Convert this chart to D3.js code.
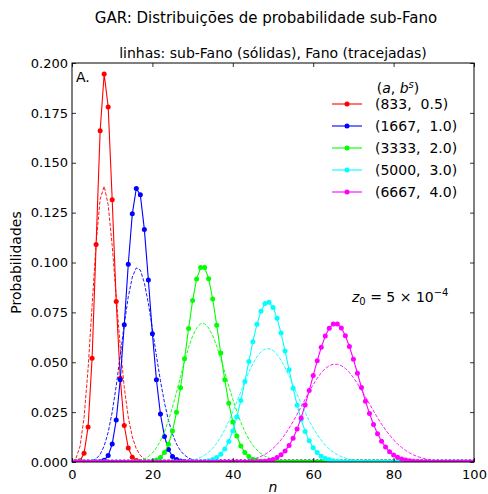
<!DOCTYPE html>
<html>
<head>
<meta charset="utf-8">
<script src="https://cdn.jsdelivr.net/npm/d3@7"></script>
<style>
  body { margin: 0; background: #fff; }
  svg text { font-family: "DejaVu Sans", sans-serif; fill: #000; }
</style>
</head>
<body>
<div id="chart"></div>
<script>
// Values (n starts at the given offset, zero elsewhere)
var nMax = 100;
var labels = ["(833, 0.5)", "(1667, 1.0)", "(3333, 2.0)", "(5000, 3.0)", "(6667, 4.0)"];
var colors = ["#ff0000", "#0000ff", "#00ff00", "#00ffff", "#ff00ff"];

// sub-Fano (solid)
var redSolidStart = 2;
var redSolid = [0.0006, 0.0044, 0.0175, 0.052, 0.109, 0.166, 0.1945, 0.178, 0.1315, 0.0805,
  0.042, 0.0183, 0.007, 0.0024, 0.0007, 0.0002];
var blueSolidStart = 6;
var blueSolid = [0.00004, 0.0002, 0.0009, 0.0032, 0.0090, 0.0210, 0.0412, 0.0688, 0.0991, 0.1244,
  0.1371, 0.1339, 0.1166, 0.0912, 0.0643, 0.0412, 0.0240, 0.0128, 0.0063, 0.0028,
  0.0012, 0.0005, 0.0002, 0.00005];
var greenSolidStart = 18;
var greenSolid = [0.00005, 0.00015, 0.0004, 0.0010, 0.0023, 0.0047, 0.0089, 0.0155, 0.0249, 0.0372,
  0.0517, 0.0669, 0.0809, 0.0917, 0.0975, 0.0975, 0.0919, 0.0817, 0.0686, 0.0546,
  0.0412, 0.0295, 0.0201, 0.0130, 0.0080, 0.0047, 0.0027, 0.0014, 0.0007, 0.00036,
  0.00017, 0.00008, 0.00004];
var cyanSolidStart = 31;
var cyanSolid = [0.00005, 0.00013, 0.0003, 0.0006, 0.0012, 0.0022, 0.0039, 0.0065, 0.0103, 0.0156,
  0.0225, 0.0308, 0.0403, 0.0504, 0.0603, 0.0690, 0.0756, 0.0794, 0.0801, 0.0775,
  0.0721, 0.0646, 0.0557, 0.0462, 0.0370, 0.0285, 0.0213, 0.0153, 0.0106, 0.0072,
  0.0047, 0.0029, 0.0018, 0.0011, 0.0006, 0.00034, 0.00018, 0.0001, 0.00005];
var magentaSolidStart = 45;
var magentaSolid = [0.00005, 0.0001, 0.0002, 0.0004, 0.0008, 0.0013, 0.0022, 0.0036, 0.0055, 0.0083,
  0.0119, 0.0165, 0.0221, 0.0286, 0.0358, 0.0433, 0.0507, 0.0575, 0.0631, 0.0671,
  0.0692, 0.0692, 0.0672, 0.0633, 0.0579, 0.0515, 0.0445, 0.0374, 0.0305, 0.0243,
  0.0188, 0.0142, 0.0104, 0.0075, 0.0052, 0.0035, 0.0024, 0.0015, 0.0010, 0.0006,
  0.00036, 0.0002, 0.00012, 0.00007];

// Fano (dashed)
var redDashStart = 0;
var redDash = [0.0002, 0.0019, 0.0079, 0.0222, 0.0467, 0.0784, 0.1097, 0.1317, 0.1382, 0.1290,
  0.1084, 0.0828, 0.0579, 0.0374, 0.0225, 0.0126, 0.0066, 0.0033, 0.0015, 0.0007,
  0.0003, 0.0001];
var blueDashStart = 3;
var blueDash = [0.00004, 0.0002, 0.0006, 0.0016, 0.0038, 0.0080, 0.0149, 0.0250, 0.0381, 0.0534,
  0.0690, 0.0828, 0.0927, 0.0973, 0.0962, 0.0898, 0.0794, 0.0667, 0.0533, 0.0407,
  0.0298, 0.0208, 0.0140, 0.0090, 0.0056, 0.0034, 0.0020, 0.0011, 0.0006, 0.0003,
  0.00016, 0.00008];
var greenDashStart = 13;
var greenDash = [0.00004, 0.0001, 0.0002, 0.0004, 0.0009, 0.0016, 0.0027, 0.0045, 0.0071, 0.0106,
  0.0152, 0.0209, 0.0276, 0.0350, 0.0428, 0.0504, 0.0574, 0.0631, 0.0672, 0.0693,
  0.0693, 0.0672, 0.0634, 0.0581, 0.0518, 0.0450, 0.0381, 0.0314, 0.0253, 0.0199,
  0.0153, 0.0114, 0.0084, 0.0060, 0.0042, 0.0029, 0.0020, 0.0013, 0.0008, 0.0005,
  0.0003, 0.0002, 0.0001, 0.00007, 0.00004];
var cyanDashStart = 25;
var cyanDash = [0.00006, 0.0001, 0.0002, 0.0003, 0.0006, 0.0009, 0.0015, 0.0023, 0.0034, 0.0049,
  0.0069, 0.0094, 0.0125, 0.0162, 0.0204, 0.0251, 0.0301, 0.0352, 0.0403, 0.0451,
  0.0493, 0.0527, 0.0552, 0.0566, 0.0568, 0.0559, 0.0539, 0.0510, 0.0473, 0.0431,
  0.0386, 0.0339, 0.0293, 0.0248, 0.0207, 0.0170, 0.0137, 0.0109, 0.0085, 0.0065,
  0.0049, 0.0037, 0.0027, 0.0020, 0.0014, 0.0010, 0.0007, 0.0005, 0.0003, 0.0002,
  0.00014, 0.00009, 0.00006];
var magentaDashStart = 38;
var magentaDash = [0.00006, 0.0001, 0.00016, 0.00026, 0.0004, 0.0006, 0.0009, 0.0014, 0.0020, 0.0028,
  0.0038, 0.0051, 0.0068, 0.0088, 0.0111, 0.0139, 0.0169, 0.0203, 0.0239, 0.0277,
  0.0315, 0.0353, 0.0388, 0.0420, 0.0447, 0.0468, 0.0483, 0.0490, 0.0490, 0.0483,
  0.0469, 0.0449, 0.0423, 0.0393, 0.0360, 0.0326, 0.0291, 0.0256, 0.0222, 0.0190,
  0.0161, 0.0135, 0.0111, 0.0090, 0.0073, 0.0058, 0.0045, 0.0035, 0.0027, 0.0021,
  0.0015, 0.0011, 0.0008, 0.0006, 0.0004, 0.0003, 0.0002, 0.00015, 0.0001, 0.00007,
  0.00005, 0.00003, 0.00002];

var xTicks = [0, 20, 40, 60, 80, 100];
var yTicks = [0, 0.025, 0.05, 0.075, 0.1, 0.125, 0.15, 0.175, 0.2];

// turn (start, values) into points for n = 0..nMax
function toPoints(start, vals) {
  return d3.range(0, nMax + 1).map(function(n) {
    var i = n - start;
    return { n: n, p: (i >= 0 && i < vals.length) ? vals[i] : 0 };
  });
}

var solids = [
  toPoints(redSolidStart, redSolid), toPoints(blueSolidStart, blueSolid),
  toPoints(greenSolidStart, greenSolid), toPoints(cyanSolidStart, cyanSolid),
  toPoints(magentaSolidStart, magentaSolid)
];
var dashes = [
  toPoints(redDashStart, redDash), toPoints(blueDashStart, blueDash),
  toPoints(greenDashStart, greenDash), toPoints(cyanDashStart, cyanDash),
  toPoints(magentaDashStart, magentaDash)
];

var svgWidth = 488, svgHeight = 494;
var margin = { top: 63, right: 14, bottom: 32, left: 72 };
var chartWidth = svgWidth - margin.left - margin.right;
var chartHeight = svgHeight - margin.top - margin.bottom;

var svg = d3.select("#chart").append("svg")
  .attr("width", svgWidth)
  .attr("height", svgHeight);

var chartGroup = svg.append("g")
  .attr("transform", `translate(${margin.left}, ${margin.top})`);

var xScale = d3.scaleLinear().domain([0, 100]).range([0, chartWidth]);
var yScale = d3.scaleLinear().domain([0, 0.2]).range([chartHeight, 0]);

// clip to axes box like matplotlib
svg.append("defs").append("clipPath").attr("id", "clip")
  .append("rect").attr("width", chartWidth).attr("height", chartHeight);

var plotArea = chartGroup.append("g").attr("clip-path", "url(#clip)");

var line = d3.line().x(d => xScale(d.n)).y(d => yScale(d.p));

colors.forEach(function(c, i) {
  plotArea.append("path")
    .datum(solids[i])
    .attr("d", line)
    .attr("fill", "none")
    .attr("stroke", c)
    .attr("stroke-width", 1.1);
  plotArea.selectAll("circle.s" + i)
    .data(solids[i])
    .enter()
    .append("circle")
    .attr("class", "s" + i)
    .attr("cx", d => xScale(d.n))
    .attr("cy", d => yScale(d.p))
    .attr("r", 2.5)
    .attr("fill", c);
  plotArea.append("path")
    .datum(dashes[i])
    .attr("d", line)
    .attr("fill", "none")
    .attr("stroke", c)
    .attr("stroke-width", 0.9)
    .attr("stroke-dasharray", "3.5,1.6");
});

// axes, ticks pointing inward on all sides
var fs = 13;
var bottomAxis = d3.axisBottom(xScale).tickValues(xTicks).tickSize(-4).tickPadding(8)
  .tickFormat(d3.format("d"));
var leftAxis = d3.axisLeft(yScale).tickValues(yTicks).tickSize(-4).tickPadding(4)
  .tickFormat(d3.format(".3f"));
var topAxis = d3.axisTop(xScale).tickValues(xTicks).tickSize(-4).tickFormat("");
var rightAxis = d3.axisRight(yScale).tickValues(yTicks).tickSize(-4).tickFormat("");

chartGroup.append("g").attr("transform", `translate(0, ${chartHeight})`).call(bottomAxis);
chartGroup.append("g").call(leftAxis);
chartGroup.append("g").call(topAxis);
chartGroup.append("g").attr("transform", `translate(${chartWidth}, 0)`).call(rightAxis);

chartGroup.selectAll(".domain").remove();
chartGroup.selectAll(".tick line").attr("stroke", "#000").attr("stroke-width", 0.8);
chartGroup.selectAll(".tick text")
  .style("font-family", "DejaVu Sans")
  .attr("font-size", fs + "px")
  .attr("fill", "#000");

chartGroup.append("rect")
  .attr("width", chartWidth)
  .attr("height", chartHeight)
  .attr("fill", "none")
  .attr("stroke", "#000")
  .attr("stroke-width", 1);

// titles and labels
svg.append("text")
  .attr("x", 266)
  .attr("y", 23)
  .attr("text-anchor", "middle")
  .attr("font-size", "15px")
  .text("GAR: Distribuições de probabilidade sub-Fano");

svg.append("text")
  .attr("x", margin.left + chartWidth / 2)
  .attr("y", 58)
  .attr("text-anchor", "middle")
  .attr("font-size", "14px")
  .text("linhas: sub-Fano (sólidas), Fano (tracejadas)");

svg.append("text")
  .attr("transform", "rotate(-90)")
  .attr("x", -(margin.top + chartHeight / 2))
  .attr("y", 21)
  .attr("text-anchor", "middle")
  .attr("font-size", "14px")
  .text("Probabilidades");

svg.append("text")
  .attr("x", margin.left + chartWidth / 2)
  .attr("y", 492)
  .attr("text-anchor", "middle")
  .attr("font-size", "14px")
  .style("font-style", "italic")
  .text("n");

chartGroup.append("text")
  .attr("x", 4)
  .attr("y", 19)
  .attr("font-size", "14px")
  .text("A.");

// z0 annotation
var zText = chartGroup.append("text")
  .attr("x", 280)
  .attr("y", 239)
  .attr("font-size", "14px");
zText.append("tspan").style("font-style", "italic").text("z");
zText.append("tspan").attr("font-size", "10px").attr("dy", 3).text("0");
zText.append("tspan").attr("dy", -3).text(" = 5 × 10");
zText.append("tspan").attr("font-size", "10px").attr("dy", -6).text("−4");

// legend
var legend = chartGroup.append("g").attr("transform", "translate(260, 0)");
var lt = legend.append("text")
  .attr("x", 66)
  .attr("y", 30)
  .attr("text-anchor", "middle")
  .attr("font-size", "14px");
lt.append("tspan").text("(");
lt.append("tspan").style("font-style", "italic").text("a");
lt.append("tspan").text(",  ");
lt.append("tspan").style("font-style", "italic").text("b");
lt.append("tspan").style("font-style", "italic").attr("font-size", "10px").attr("dy", -5).text("s");
lt.append("tspan").attr("dy", 5).text(")");

labels.forEach(function(lab, i) {
  var yy = 41 + i * 22;
  legend.append("line")
    .attr("x1", 0).attr("x2", 30)
    .attr("y1", yy).attr("y2", yy)
    .attr("stroke", colors[i])
    .attr("stroke-width", 1.1);
  legend.append("circle")
    .attr("cx", 15).attr("cy", yy).attr("r", 2.5)
    .attr("fill", colors[i]);
  legend.append("text")
    .attr("x", 43)
    .attr("y", yy + 5)
    .attr("font-size", "14px")
    .attr("xml:space", "preserve")
    .text(lab.replace(", ", ",  "));
});
</script>
</body>
</html>
